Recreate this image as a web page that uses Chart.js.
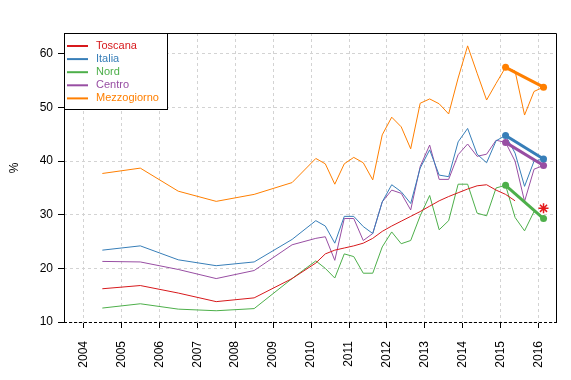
<!DOCTYPE html>
<html>
<head>
<meta charset="utf-8">
<script src="https://cdn.jsdelivr.net/npm/chart.js@4.4.0/dist/chart.umd.min.js"></script>
<style>
  html, body { margin: 0; padding: 0; background: #fff; }
  #wrap { width: 571px; height: 380px; }
</style>
</head>
<body>
<div id="wrap"><canvas id="chart" width="571" height="380"></canvas></div>
<script>
// periods: yearly averages 2004-2009 (mid year), then quarters 2010Q1 .. 2016Q1
var periods = [2004.5, 2005.5, 2006.5, 2007.5, 2008.5, 2009.5,
  2010.125, 2010.375, 2010.625, 2010.875,
  2011.125, 2011.375, 2011.625, 2011.875,
  2012.125, 2012.375, 2012.625, 2012.875,
  2013.125, 2013.375, 2013.625, 2013.875,
  2014.125, 2014.375, 2014.625, 2014.875,
  2015.125, 2015.375, 2015.625, 2015.875,
  2016.125];
var yearTicks = [2004, 2005, 2006, 2007, 2008, 2009, 2010, 2011, 2012, 2013, 2014, 2015, 2016];
var valueTicks = [10, 20, 30, 40, 50, 60];

var toscana = [16.2, 16.8, 15.4, 13.8, 14.5, 18.1,
  21.0, 22.7, 23.4, 23.8,
  24.2, 24.7, 25.6, 26.9,
  27.9, 28.8, 29.7, 30.6,
  31.6, 32.6, 33.4, 34.1,
  34.8, 35.4, 35.6, 34.6,
  33.8, 32.6, null, null,
  null];
var italia = [23.4, 24.2, 21.6, 20.5, 21.2, 25.4,
  28.9, 27.9, 24.7, 29.7,
  29.7, 27.8, 26.5, 32.4,
  35.6, 34.3, 32.1, 38.7,
  42.1, 37.4, 37.1, 43.6,
  46.1, 41.3, 39.7, 43.8,
  44.8, 41.5, 35.3, 40.0,
  40.4];
var nord = [12.6, 13.4, 12.4, 12.1, 12.5, 18.1,
  21.4, 20.0, 18.2, 22.7,
  22.2, 19.1, 19.1, 24.0,
  26.8, 24.6, 25.2, 29.8,
  33.6, 27.2, 28.9, 35.7,
  35.7, 30.3, 29.8, 35.0,
  35.5, 29.5, 27.0, 30.6,
  29.3];
var centro = [21.3, 21.2, 19.8, 18.1, 19.6, 24.4,
  25.6, 25.9, 21.5, 29.3,
  29.3, 25.2, 26.5, 32.4,
  34.6, 34.0, 30.9, 39.0,
  43.0, 36.6, 36.6, 41.2,
  43.2, 40.9, 41.3, 43.9,
  43.5, 40.0, 32.5, 38.5,
  39.2];
var mezzogiorno = [37.7, 38.7, 34.4, 32.5, 33.8, 36.0,
  40.5, 39.5, 35.7, 39.5,
  40.7, 39.7, 36.5, 44.9,
  48.2, 46.4, 42.3, 50.8,
  51.6, 50.7, 48.8, 55.5,
  61.5, 56.4, 51.4, 54.5,
  57.5, 56.8, 48.6, 53.0,
  53.8];
var toscanaLast = 31.2; // red star, 2016Q1

var names = ['Toscana', 'Italia', 'Nord', 'Centro', 'Mezzogiorno'];
var colors = ['#D7191C', '#377EB8', '#4DAF4A', '#984EA3', '#FF7F00'];
var FONT = '"Liberation Sans", Arial, sans-serif';

function toPoints(vals) {
    return periods.map(function(x, i) { return { x: x, y: vals[i] }; });
}

// bold segment: same quarter one year apart (2015Q1 -> 2016Q1)
function yearOnYear(vals) {
    var a = periods.indexOf(2015.125), b = periods.indexOf(2016.125);
    return [{ x: periods[a], y: vals[a] }, { x: periods[b], y: vals[b] }];
}

var series = [toscana, italia, nord, centro, mezzogiorno];
var datasets = [];

series.forEach(function(vals, i) {
    datasets.push({
        label: names[i],
        data: toPoints(vals),
        borderColor: colors[i],
        borderWidth: 1,
        pointRadius: 0,
        showLine: true,
        order: 2
    });
});

[1, 2, 3, 4].forEach(function(i) {
    datasets.push({
        label: names[i] + ' yoy',
        data: yearOnYear(series[i]),
        borderColor: colors[i],
        backgroundColor: colors[i],
        borderWidth: 3,
        pointRadius: 3.5,
        pointBorderWidth: 0,
        showLine: true,
        order: 1
    });
});

datasets.push({
    label: 'Toscana 2016',
    data: [{ x: 2016.125, y: toscanaLast }],
    borderColor: '#E41A1C',
    pointStyle: 'star',
    pointRadius: 5,
    pointBorderWidth: 1.5,
    showLine: false,
    order: 0
});

var framePlugin = {
    id: 'frame',
    afterDatasetsDraw: function(chart) {
        var ctx = chart.ctx, a = chart.chartArea;
        ctx.save();
        ctx.strokeStyle = '#000';
        ctx.lineWidth = 1;
        ctx.beginPath();
        ctx.moveTo(a.left + 0.5, a.bottom);
        ctx.lineTo(a.left + 0.5, a.top + 0.5);
        ctx.lineTo(a.right - 0.5, a.top + 0.5);
        ctx.lineTo(a.right - 0.5, a.bottom);
        ctx.stroke();
        ctx.setLineDash([3, 2]);
        ctx.beginPath();
        ctx.moveTo(a.left, a.bottom + 0.5);
        ctx.lineTo(a.right, a.bottom + 0.5);
        ctx.stroke();
        ctx.setLineDash([]);

        // legend
        var lx = a.left + 0.5, ly = a.top + 0.5, lw = 103, lh = 76;
        ctx.fillStyle = '#fff';
        ctx.fillRect(lx, ly, lw, lh);
        ctx.strokeRect(lx, ly, lw, lh);
        ctx.font = '11px ' + FONT;
        ctx.textBaseline = 'middle';
        ctx.textAlign = 'left';
        names.forEach(function(n, i) {
            var y = a.top + 13 + i * 13.1;
            ctx.strokeStyle = colors[i];
            ctx.lineWidth = 2;
            ctx.beginPath();
            ctx.moveTo(a.left + 3, y);
            ctx.lineTo(a.left + 24, y);
            ctx.stroke();
            ctx.fillStyle = colors[i];
            ctx.fillText(n, a.left + 32, y);
        });

        // y axis title
        ctx.fillStyle = '#000';
        ctx.font = '12px ' + FONT;
        ctx.translate(15, 168);
        ctx.rotate(-Math.PI / 2);
        ctx.textAlign = 'center';
        ctx.fillText('%', 0, 0);
        ctx.restore();
    }
};

var ctx = document.getElementById('chart');
new Chart(ctx, {
    type: 'scatter',
    data: { datasets: datasets },
    plugins: [framePlugin],
    options: {
        responsive: false,
        animation: false,
        devicePixelRatio: 1,
        layout: { padding: { top: 33, right: 14, left: 0, bottom: 0 } },
        plugins: { legend: { display: false }, tooltip: { enabled: false } },
        scales: {
            x: {
                type: 'linear',
                min: 2003.49,
                max: 2016.48,
                afterBuildTicks: function(s) {
                    s.ticks = yearTicks.map(function(v) { return { value: v }; });
                },
                afterFit: function(s) { s.height = 58; },
                ticks: {
                    minRotation: 90,
                    maxRotation: 90,
                    padding: 13,
                    color: '#000',
                    font: { size: 12, family: FONT },
                    callback: function(v) { return String(v); }
                },
                grid: { color: '#d3d3d3', tickColor: '#000', tickLength: 6 },
                border: { display: false, dash: [3, 3] }
            },
            y: {
                min: 10,
                max: 63.9,
                afterBuildTicks: function(s) {
                    s.ticks = valueTicks.map(function(v) { return { value: v }; });
                },
                afterFit: function(s) { s.width = 64; },
                ticks: {
                    padding: 5,
                    color: '#000',
                    font: { size: 12, family: FONT }
                },
                grid: { color: '#d3d3d3', tickColor: '#000', tickLength: 6 },
                border: { display: false, dash: [3, 3] }
            }
        }
    }
});
</script>
</body>
</html>
